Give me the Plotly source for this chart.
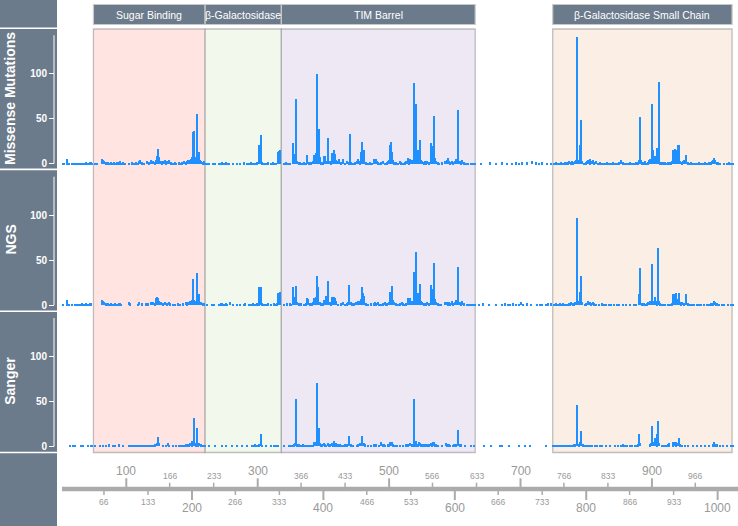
import plotly.graph_objects as go

W, H = 738, 526

# ---------------- data (position, count) ----------------
missense = [
    (3,1),(5,1),(9,6),(10,2),(13,1),(17,1),(19,1),(22,1),(25,1),(26,1),(29,1),(32,1),(33,1),(36,1),(38,1),(39,2),(42,1),(44,2),(46,2),(48,1),
    (52,1),(55,1),(63,6),(64,4),(66,3),(68,2),(70,2),(72,2),(74,1),(77,2),(79,1),(81,2),(83,1),(86,2),(88,2),(90,3),(92,1),(95,2),(97,1),
    (104,1),(108,2),(111,1),(114,2),(117,1),(119,3),(121,4),(124,2),(127,1),(131,3),(134,2),(137,4),(140,3),(143,2),(145,4),(147,9),(148,17),(150,8),
    (152,3),(154,2),(156,3),(158,4),(160,2),(162,3),(165,4),(167,2),(170,1),(173,2),(176,1),(180,2),(182,1),(185,2),(187,3),(190,2),(192,3),(194,5),
    (196,4),(198,6),(200,8),(201,36),(202,37),(203,37),(204,8),(206,6),(207,56),(208,10),(210,14),(212,4),(214,3),(216,2),(218,3),(220,1),
    (223,1),(226,1),(232,1),(234,1),(241,1),(243,1),(246,2),(249,1),(251,2),(253,1),(256,1),(262,1),(268,1),(273,1),(279,2),(283,1),(286,1),(290,2),
    (293,1),(296,1),(299,2),(301,21),(302,3),(304,32),(306,2),(309,1),(313,1),(316,2),(320,1),(323,2),(326,1),(328,1),(331,14),(332,15),(333,16),(334,3),
    (340,1),(343,2),(346,1),(349,1),(353,23),(354,3),(356,11),(357,8),(358,72),(360,3),(362,2),(364,2),(367,1),(370,2),(373,1),(375,10),(378,2),(381,2),
    (384,3),(386,10),(387,9),(388,12),(389,12),(390,100),(391,22),(392,8),(393,39),(394,8),(396,2),(399,2),(400,9),(401,8),(402,9),(404,3),(406,29),
    (407,5),(409,3),(411,2),(412,12),(413,8),(414,12),(415,6),(416,16),(418,11),(419,4),(421,3),(424,6),(426,2),(429,6),(432,1),(435,3),(438,2),(440,33),
    (442,2),(445,1),(448,2),(450,3),(452,6),(454,3),(456,2),(457,14),(458,8),(459,25),(460,16),(461,16),(462,4),(464,2),(467,1),(470,2),(473,1),(477,6),
    (478,5),(480,6),(481,3),(483,2),(485,1),(488,2),(490,3),(493,1),(496,2),(498,3),(500,4),(501,21),(502,10),(503,25),(504,14),(505,4),(507,2),(510,2),
    (513,1),(516,3),(518,2),(521,1),(524,2),(526,3),(528,7),(530,2),(532,6),(534,3),(535,4),(537,90),(538,6),(540,67),(541,5),(542,10),(543,10),(544,16),
    (545,12),(546,6),(547,27),(548,4),(550,3),(552,2),(554,3),(556,2),(558,3),(561,2),(564,23),(565,20),(566,6),(568,54),(569,7),(571,3),(574,2),(576,1),
    (580,2),(585,3),(587,4),(589,7),(591,3),(593,2),(595,3),(597,2),(600,3),(602,6),(604,3),(605,60),(607,3),(609,2),(611,5),(613,2),(616,1),(620,1),
    (624,1),(628,1),
    (631,1),(640,1),(653,2),(662,1),(672,2),(679,1),(687,1),(692,2),(697,1),(702,2),(710,2),(717,3),(723,2),(728,1),(733,2),(740,1),(746,1),
    (750,1),(753,2),(756,1),(759,1),(761,2),(764,1),(767,2),(769,2),(772,2),(774,3),(776,2),(778,3),(780,2),(782,3),(784,4),(786,142),(787,4),(790,21),
    (792,49),(793,3),(796,1),(799,2),(801,3),(803,4),(805,2),(806,6),(808,3),(810,4),(812,2),(814,3),(817,1),(820,2),(823,1),(826,1),(829,1),(832,2),
    (835,1),(838,1),(841,2),(844,1),(846,1),(849,2),(852,5),(855,2),(858,1),(861,1),(864,1),(867,2),(870,1),(873,1),(876,2),(878,2),(880,4),(881,53),
    (882,10),(883,5),(885,2),(887,2),(889,3),(891,1),(893,2),(895,4),(896,6),(897,5),(898,6),(899,67),(900,15),(901,16),(903,5),(905,9),(907,3),(908,18),
    (909,4),(910,91),(912,2),(914,2),(916,2),(918,1),(920,2),(922,1),(924,2),(926,2),(928,2),(930,3),(932,16),(933,12),(934,17),(935,10),(936,9),(937,16),
    (938,10),(939,21),(940,4),(941,21),(943,3),(945,2),(947,3),(949,4),(951,10),(952,5),(954,2),(956,1),(959,2),(962,1),(965,1),(968,1),(971,2),(974,1),
    (977,1),(980,2),(983,1),(986,2),(989,2),(991,3),(993,4),(994,7),(995,5),(996,3),(998,2),(1000,2),(1003,1),(1010,1),(1014,1),(1017,2),(1020,1),(1023,1),
]

ngs = [
    (3,1),(9,6),(10,2),(13,1),(17,1),(22,1),(25,1),(26,1),(29,1),(32,2),(33,1),(36,1),(39,2),(42,1),(44,2),(46,2),
    (63,6),(64,4),(66,3),(68,2),(70,2),(72,2),(75,1),(77,2),(80,1),(83,2),(86,1),(88,2),(90,2),(92,1),(104,3),(106,2),(117,1),(119,3),(124,2),(130,2),
    (133,2),(137,3),(140,3),(143,2),(145,8),(146,9),(147,9),(148,8),(150,4),
    (152,3),(155,2),(158,3),(161,2),(164,3),(166,2),(170,1),(173,1),(178,2),(182,1),(186,2),(190,3),(192,2),(194,3),(196,4),(198,5),(200,6),(201,29),
    (202,5),(203,6),(205,5),(207,36),(208,4),(210,12),(212,3),(214,3),(216,2),(218,2),
    (223,1),(230,1),(233,1),(240,1),(243,2),(246,2),(249,1),(251,2),(253,1),(257,3),(262,1),(268,1),(273,1),(278,1),(281,2),(286,1),(290,1),(293,2),
    (296,1),(298,2),(301,20),(302,2),(304,20),(306,2),(309,1),(313,1),(316,2),(320,1),(324,2),(327,1),(329,2),(331,13),(332,14),(333,15),(334,3),
    (340,1),(344,2),(349,2),(351,1),(353,20),(354,4),(356,9),(357,9),(358,21),(360,3),(362,2),(364,2),(366,2),(370,1),(373,2),(374,7),(375,8),(376,7),
    (379,2),(382,2),(384,3),(386,8),(387,8),(388,9),(390,32),(391,20),(392,19),(394,3),(396,2),(399,2),(401,6),(403,10),(404,6),(406,27),(407,4),(409,3),
    (411,2),(412,9),(413,8),(414,9),(416,9),(417,8),(419,4),(422,1),(426,2),(429,3),(432,1),(435,2),(437,3),(439,22),(441,3),(443,2),(446,2),(449,3),
    (452,5),(454,4),(456,3),(457,7),(458,10),(459,20),(460,14),(461,10),(462,4),(465,2),(468,1),(472,2),(476,2),(478,3),(480,2),(482,3),(484,1),(488,1),
    (490,2),(493,3),(495,1),(497,2),(499,3),(501,15),(502,5),(503,10),(504,21),(505,6),(507,3),(510,2),(513,1),(516,2),(519,3),(521,2),(524,1),(526,2),
    (528,8),(530,4),(532,8),(534,3),(535,4),(537,37),(538,5),(540,59),(541,5),(542,8),(543,6),(544,13),(545,14),(546,5),(547,24),(548,4),(550,3),(552,2),
    (554,2),(556,1),(558,3),(561,2),(563,4),(564,22),(565,18),(566,5),(568,47),(569,7),(571,3),(574,2),(576,1),(579,1),(585,3),(587,3),(589,2),(591,3),
    (593,2),(595,4),(597,2),(600,3),(602,6),(604,3),(605,42),(607,3),(609,2),(611,4),(614,2),(618,1),(621,1),(625,1),(628,1),
    (631,1),(636,1),(643,2),(652,1),(663,1),(671,1),(676,2),(680,1),(684,1),(688,2),(692,1),(697,1),(700,3),(704,1),(709,2),(716,1),(724,1),(729,1),
    (733,1),(738,1),(741,2),(746,2),
    (750,1),(753,2),(756,1),(759,2),(762,1),(765,2),(768,1),(770,1),(773,2),(775,2),(777,3),(779,2),(781,2),(783,3),(785,5),(786,97),(787,4),(790,15),
    (792,32),(793,3),(797,1),(800,2),(803,4),(805,3),(807,2),(810,3),(812,2),(815,1),(819,1),(823,2),(826,1),(830,1),(834,1),(838,1),(842,1),(846,1),
    (850,1),(856,1),(860,1),(866,1),(872,1),(876,1),(880,12),(881,41),(882,5),(884,2),(886,2),(888,2),(890,1),(892,2),(894,3),(896,4),(897,5),(899,46),
    (900,16),(901,5),(903,4),(905,9),(907,2),(908,5),(909,64),(910,4),(912,2),(914,1),(917,1),(920,1),(924,1),(927,1),(930,2),(931,7),(932,12),(933,10),
    (934,12),(935,8),(936,6),(937,14),(938,7),(939,6),(941,13),(942,3),(944,2),(946,3),(948,2),(951,12),(952,4),(954,2),(957,1),(960,1),(964,1),(968,1),
    (972,1),(975,1),(979,1),(983,1),(987,1),(990,2),(992,2),(994,5),(995,3),(997,2),(999,2),(1002,1),(1006,1),(1010,1),(1015,1),(1020,1),(1023,1),
]

sanger = [
    (14,1),(18,1),(22,1),(30,1),(34,1),(41,1),(46,1),(48,1),(52,1),(60,1),(64,1),(68,1),(73,2),(79,1),(82,1),(88,2),(95,1),(103,1),(107,1),(110,1),
    (113,1),(116,1),(119,1),(122,1),(125,1),(128,1),(131,1),(134,1),(137,1),(141,1),(144,2),(146,3),(148,10),(149,3),(155,1),(160,1),(163,3),(165,1),
    (170,1),(176,1),(180,1),(183,1),(186,1),(189,1),(191,2),(193,2),(195,2),(197,3),(199,2),(200,6),(202,31),(204,3),(206,2),(207,20),(209,2),(211,3),
    (213,2),(216,1),(219,1),(225,1),(235,1),(245,1),(252,1),(260,1),(268,1),(276,1),(283,1),(291,1),(294,1),(296,2),(298,1),(301,2),(304,13),(306,1),
    (312,1),(320,1),(324,1),(327,1),(331,1),(339,1),(348,1),(351,1),(353,1),(355,2),(356,3),(358,52),(359,2),(361,2),(363,2),(365,1),(367,1),(369,2),
    (371,1),(373,1),(376,1),(378,1),(380,1),(382,1),(384,1),(386,4),(387,3),(388,5),(390,70),(391,5),(393,20),(394,3),(396,2),(398,2),(400,3),(402,2),
    (404,1),(406,3),(408,2),(410,2),(412,3),(414,2),(416,6),(417,2),(419,3),(421,2),(423,2),(425,2),(427,1),(430,1),(433,2),(436,2),(439,11),(441,2),
    (445,1),(450,1),(453,2),(456,3),(458,11),(459,5),(461,3),(463,2),(468,1),(472,1),(476,2),(480,2),(484,1),(487,4),(488,3),(490,2),(492,2),(494,1),
    (498,2),(500,2),(501,5),(503,5),(504,4),(506,2),(508,1),(512,1),(516,1),(520,1),(526,2),(529,2),(532,3),(534,2),(535,1),(537,52),(538,2),(540,6),
    (541,2),(543,2),(545,4),(546,3),(548,2),(550,2),(553,2),(556,2),(558,2),(560,2),(563,3),(565,2),(566,4),(568,5),(569,2),(571,2),(574,1),(580,1),
    (586,3),(588,2),(591,2),(593,1),(597,1),(599,2),(602,2),(605,18),(607,2),(609,2),(615,1),(625,1),(629,1),
    (644,1),(655,1),(668,1),(672,1),(682,1),(698,1),(707,1),(714,1),(738,1),
    (749,1),(752,1),(755,1),(758,1),(761,1),(764,1),(767,1),(770,1),(773,1),(776,1),(779,1),(781,2),(783,2),(785,3),(786,46),(788,2),(790,4),(792,17),
    (794,2),(796,1),(799,1),(803,1),(806,1),(809,1),(813,1),(816,1),(820,1),(823,1),(830,1),(836,1),(843,1),(848,1),(852,1),(856,2),(859,1),(862,1),
    (866,1),(870,1),(874,1),(877,1),(879,2),(880,13),(882,3),(896,2),(898,3),(899,22),(900,3),(902,4),(904,9),(906,4),(907,2),(908,13),(909,28),(910,3),
    (915,1),(918,1),(920,1),(922,1),(924,2),(925,3),(926,1),(931,2),(932,5),(933,5),(934,5),(935,3),(936,2),(937,5),(938,3),(941,9),(943,2),(946,1),
    (950,1),(955,1),(962,1),(968,1),(974,1),(980,1),(986,1),(992,2),(994,4),(996,2),(998,2),(1003,1),(1008,1),(1014,1),(1020,1),(1023,1),
]

panel_names = ["Missense Mutations", "NGS", "Sanger"]
panel_data = [missense, ngs, sanger]
y_ticks = [0, 50, 100]
y_axis_top = 143

domain_names = ["Sugar Binding", "β-Galactosidase", "TIM Barrel", "β-Galactosidase Small Chain"]
domain_start = [50, 220, 336, 749]
domain_end = [220, 336, 631, 1022]
domain_fill = ["#FFE4E2", "#F2F8EC", "#EEE8F5", "#FBEEE4"]

major_up = [100, 300, 500, 700, 900]
major_down = [200, 400, 600, 800, 1000]
minor_up = [166, 233, 366, 433, 566, 633, 766, 833, 966]
minor_down = [66, 133, 266, 333, 466, 533, 666, 733, 866, 933]

# ---------------- layout helpers ----------------
def py(px):
    return 1 - px / H

def pxx(px):
    return px / W

FONT = "Liberation Sans, Arial, sans-serif"
STRIP = "#6C7B8B"
BAR = "#1E90FF"
AXGRAY = "#ABABAB"
X_RANGE = [0, 1031]
Y_RANGE = [-5.5, 150.5]
panel_px = [(28.5, 168.5), (170.0, 310.0), (311.3, 451.3)]

fig = go.Figure()
layout = dict(
    width=W, height=H, margin=dict(l=0, r=0, t=0, b=0),
    paper_bgcolor="white", plot_bgcolor="rgba(0,0,0,0)",
    showlegend=False, font=dict(family=FONT), bargap=0, barmode="overlay",
)

shapes = []
annotations = []

for i, (name, data) in enumerate(zip(panel_names, panel_data)):
    k = "" if i == 0 else str(i + 1)
    pos = [p for p, v in data]
    val = [v for p, v in data]
    fig.add_trace(go.Bar(x=pos, y=val, xaxis="x" + k, yaxis="y" + k, width=2.0,
                         marker=dict(color=BAR, line=dict(width=0)), hoverinfo="x+y"))
    top, bot = panel_px[i]
    layout["xaxis" + k] = dict(domain=[pxx(60.6), 1.0], range=X_RANGE, visible=False,
                               anchor="y" + k, fixedrange=True)
    layout["yaxis" + k] = dict(domain=[py(bot), py(top)], range=Y_RANGE, anchor="free",
                               position=pxx(54), side="left", showgrid=False, zeroline=False,
                               showline=False, ticks="outside", ticklen=5, tickwidth=1,
                               tickcolor="white", tickvals=y_ticks, fixedrange=True,
                               tickfont=dict(color="white", size=10, family=FONT, weight="bold"))
    shapes.append(dict(type="line", xref="paper", yref="y" + k, x0=pxx(54), x1=pxx(54),
                       y0=0, y1=y_axis_top, line=dict(color="white", width=1), layer="above"))
    annotations.append(dict(text=name, xref="paper", yref="paper", x=pxx(10.5),
                            y=py((top + bot) / 2), textangle=-90, showarrow=False,
                            font=dict(color="white", size=14, family=FONT, weight="bold"),
                            xanchor="center", yanchor="middle"))

# left strips
strip_rows = [(0, 27.5), (29, 168.5), (170.3, 310.5), (312, 451.8), (453.3, 527)]
for t, b in strip_rows:
    shapes.append(dict(type="rect", xref="paper", yref="paper", x0=0, x1=pxx(57),
                       y0=py(b), y1=py(t), fillcolor=STRIP, line=dict(width=0), layer="below"))

# domain background boxes + header boxes
for nm, s, e, c in zip(domain_names, domain_start, domain_end, domain_fill):
    shapes.append(dict(type="rect", xref="x", yref="paper", x0=s, x1=e,
                       y0=py(452.5), y1=py(29), fillcolor=c,
                       line=dict(color="rgba(120,120,120,0.45)", width=1.3), layer="below"))
    shapes.append(dict(type="rect", xref="x", yref="paper", x0=s, x1=e,
                       y0=py(24.5), y1=py(4.5), fillcolor=STRIP,
                       line=dict(color="#C9C9C9", width=1.2), layer="below"))
    annotations.append(dict(text=nm, xref="x", yref="paper", x=(s + e) / 2, y=py(14.5),
                            showarrow=False, font=dict(color="white", size=10.5, family=FONT),
                            xanchor="center", yanchor="middle"))

# bottom custom axis
LINE_Y = 489
shapes.append(dict(type="line", xref="paper", yref="paper", x0=pxx(62), x1=1.0,
                   y0=py(LINE_Y), y1=py(LINE_Y), line=dict(color=AXGRAY, width=4.3), layer="above"))
for v in major_up:
    shapes.append(dict(type="line", xref="x3", yref="paper", x0=v, x1=v, y0=py(478.3), y1=py(LINE_Y),
                       line=dict(color=AXGRAY, width=2)))
    annotations.append(dict(text=str(v), xref="x3", yref="paper", x=v, y=py(470.7), showarrow=False,
                            font=dict(color="#999999", size=12, family=FONT), xanchor="center", yanchor="middle"))
for v in major_down:
    shapes.append(dict(type="line", xref="x3", yref="paper", x0=v, x1=v, y0=py(LINE_Y), y1=py(500),
                       line=dict(color=AXGRAY, width=2)))
    annotations.append(dict(text=str(v), xref="x3", yref="paper", x=v, y=py(507.7), showarrow=False,
                            font=dict(color="#999999", size=12, family=FONT), xanchor="center", yanchor="middle"))
for v in minor_up:
    shapes.append(dict(type="line", xref="x3", yref="paper", x0=v, x1=v, y0=py(482.7), y1=py(LINE_Y),
                       line=dict(color=AXGRAY, width=1.5)))
    annotations.append(dict(text=str(v), xref="x3", yref="paper", x=v, y=py(476), showarrow=False,
                            font=dict(color="#999999", size=8.5, family=FONT), xanchor="center", yanchor="middle"))
for v in minor_down:
    shapes.append(dict(type="line", xref="x3", yref="paper", x0=v, x1=v, y0=py(LINE_Y), y1=py(495),
                       line=dict(color=AXGRAY, width=1.5)))
    annotations.append(dict(text=str(v), xref="x3", yref="paper", x=v, y=py(501.7), showarrow=False,
                            font=dict(color="#999999", size=8.5, family=FONT), xanchor="center", yanchor="middle"))

layout["shapes"] = shapes
layout["annotations"] = annotations
fig.update_layout(**layout)
fig.write_html("out.html", config={"displayModeBar": False},
               post_script="document.body.style.margin='0px';document.body.style.overflow='hidden';")
